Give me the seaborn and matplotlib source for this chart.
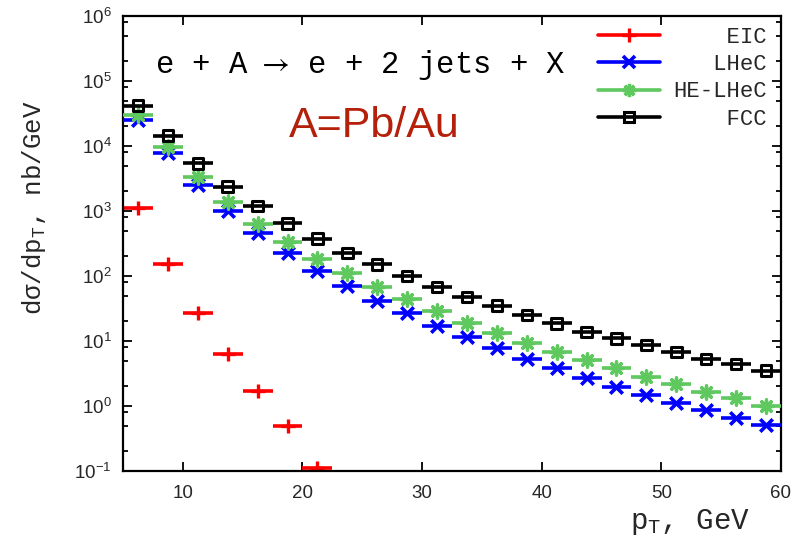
import numpy as np
import pandas as pd
import matplotlib
matplotlib.use("Agg")
import matplotlib.pyplot as plt
from matplotlib.lines import Line2D
from matplotlib.ticker import LogLocator, NullFormatter, FixedLocator
import seaborn as sns

# ---------------- data ----------------
pt = [6.25, 8.75, 11.25, 13.75, 16.25, 18.75, 21.25, 23.75, 26.25, 28.75, 31.25,
      33.75, 36.25, 38.75, 41.25, 43.75, 46.25, 48.75, 51.25, 53.75, 56.25, 58.75]
bin_half_width = 1.25

eic = [1120, 151, 27.3, 6.3, 1.7, 0.50, 0.11]
lhec = [25100, 7900, 2500, 1000, 454, 224, 119, 70, 41.7, 26.7, 16.8,
        11.4, 7.7, 5.3, 3.8, 2.72, 1.98, 1.48, 1.12, 0.87, 0.66, 0.51]
helhec = [30000, 9800, 3300, 1360, 631, 330, 183, 110, 67, 43.5, 28.5,
          19, 13.4, 9.4, 6.8, 5.1, 3.8, 2.83, 2.15, 1.66, 1.31, 1.01]
fcc = [41700, 14400, 5400, 2370, 1190, 646, 375, 226, 151, 100, 68,
       48, 35, 25, 18.7, 13.8, 11, 8.7, 6.8, 5.3, 4.4, 3.5]

series_names = ["EIC", "LHeC", "HE-LHeC", "FCC"]
series_values = [eic, lhec, helhec, fcc]

x_ticks = [10, 20, 30, 40, 50, 60]
y_ticks = [1e-1, 1e0, 1e1, 1e2, 1e3, 1e4, 1e5, 1e6]

# ---------------- style ----------------
sns.set_theme(style="ticks")
plt.rcParams["font.family"] = ["Liberation Sans", "DejaVu Sans"]
plt.rcParams["mathtext.default"] = "regular"
plt.rcParams["mathtext.fontset"] = "stix"
MONO = ["Liberation Mono", "DejaVu Sans Mono"]

colors = {"EIC": "#ff0000", "LHeC": "#0000ff", "HE-LHeC": "#5fc85f", "FCC": "#000000"}
markers = {"EIC": "+", "LHeC": "x", "HE-LHeC": (8, 2, 0), "FCC": "s"}
msizes = {"EIC": 10, "LHeC": 9, "HE-LHeC": 9.5, "FCC": 7.5}
mews = {"EIC": 2.4, "LHeC": 2.6, "HE-LHeC": 2.4, "FCC": 2.2}

rows = []
for name, vals in zip(series_names, series_values):
    for x, v in zip(pt, vals):
        rows.append({"series": name, "pt": x, "xs": v})
df = pd.DataFrame(rows)

fig = plt.figure(figsize=(7.95, 5.39), dpi=100)
ax = fig.add_axes([123 / 795, 1 - 471 / 539, 658 / 795, 455 / 539])

for i, name in enumerate(series_names):
    sub = df[df["series"] == name]
    ax.errorbar(sub["pt"], sub["xs"], xerr=bin_half_width, fmt="none",
                ecolor=colors[name], elinewidth=2.6, capsize=0, zorder=2 + i)
    if name == "FCC":
        sns.scatterplot(data=sub, x="pt", y="xs", marker="s", s=msizes[name] ** 2,
                        facecolor="none", edgecolor=colors[name],
                        linewidth=mews[name], ax=ax, zorder=2.5 + i, legend=False)
    else:
        sns.scatterplot(data=sub, x="pt", y="xs", marker=markers[name],
                        s=msizes[name] ** 2, color=colors[name],
                        linewidth=mews[name], ax=ax, zorder=2.5 + i, legend=False)

ax.set_yscale("log")
ax.set_xlim(5, 60)
ax.set_ylim(0.1, 1e6)

ax.xaxis.set_major_locator(FixedLocator(x_ticks))
ax.yaxis.set_major_locator(FixedLocator(y_ticks))
ax.yaxis.set_minor_locator(LogLocator(base=10, subs=(2, 5, 8), numticks=20))
ax.yaxis.set_minor_formatter(NullFormatter())

ax.tick_params(axis="both", which="both", direction="in", top=True, right=True,
               width=1.3, color="black")
ax.tick_params(axis="both", which="major", length=6.5)
ax.tick_params(axis="both", which="minor", length=3.5)
ax.tick_params(axis="x", which="both", bottom=True, top=True, labelsize=13.5, pad=10)
ax.tick_params(axis="y", labelsize=13.5, pad=8)
ax.tick_params(axis="x", which="minor", bottom=False, top=False)
for sp in ax.spines.values():
    sp.set_linewidth(1.6)
    sp.set_color("black")

ax.set_xlabel(r"p$_\mathregular{T}$, GeV", family=MONO, fontsize=21,
              ha="center", va="center")
ax.xaxis.set_label_coords(0.862, -0.112)
ax.set_ylabel(r"dσ/dp$_\mathregular{T}$, nb/GeV", family=MONO, fontsize=18.5,
              ha="center", va="center")
ax.yaxis.set_label_coords(-0.135, 0.579)

ax.text(0.361, 0.874, r"e + A $\!\mathrm{→}$ e + 2 jets + X", transform=ax.transAxes,
        family=MONO, fontsize=22, ha="center", va="baseline", color="black")
ax.text(0.382, 0.735, "A=Pb/Au", transform=ax.transAxes,
        fontsize=31, ha="center", va="baseline", color="#b4200a")

handles = []
for name in series_names:
    if name == "FCC":
        h = Line2D([], [], color=colors[name], lw=2.6, marker="s", ms=msizes[name],
                   mfc="none", mec=colors[name], mew=mews[name])
    else:
        h = Line2D([], [], color=colors[name], lw=2.6, marker=markers[name],
                   ms=msizes[name], mew=mews[name])
    handles.append(h)
labels = [n.rjust(7) for n in series_names]
leg = ax.legend(handles, labels, loc="upper right",
                bbox_to_anchor=(1 - 14 / 658, 1 - 11 / 455),
                frameon=False, borderpad=0, borderaxespad=0,
                handlelength=2.8, handletextpad=0.6, labelspacing=0.28,
                prop={"family": MONO, "size": 16})

fig.savefig("out.png", dpi=100)
